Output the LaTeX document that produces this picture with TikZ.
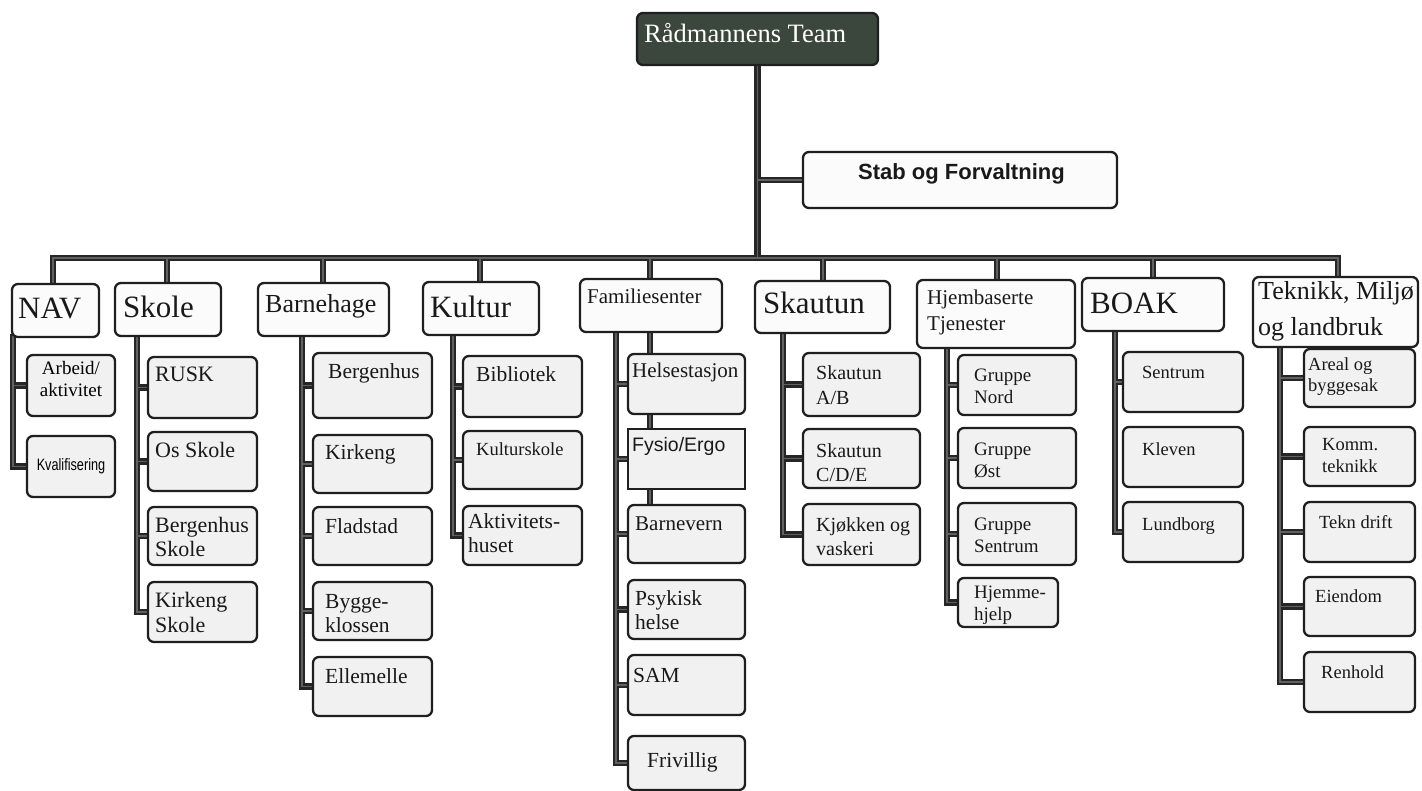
\documentclass[tikz,border=0pt]{standalone}
\usepackage{fontspec}
\setmainfont{Liberation Serif}
\newfontfamily\arialf{Liberation Sans}
\usetikzlibrary{calc}
\pgfdeclarelayer{lineA}
\pgfdeclarelayer{lineB}
\pgfsetlayers{lineA,lineB,main}
\definecolor{rootgreen}{HTML}{3B473C}
\newcommand\fs[2]{\fontsize{#1}{#2}\selectfont}
\newcommand\twoL[2]{\begin{tabular}[t]{@{}l@{}}#1\\#2\end{tabular}}
\newcommand\twoC[2]{\begin{tabular}[t]{@{}c@{}}#1\\#2\end{tabular}}
\newcommand\connect[1]{\begin{pgfonlayer}{lineA}\draw[connout]#1;\end{pgfonlayer}\begin{pgfonlayer}{lineB}\draw[connin]#1;\end{pgfonlayer}}
\newcommand\bx[6]{\node[#2, minimum width={(#5-#3)*1pt}, minimum height={(#6-#4)*1pt}] (#1) at ({(#3+#5)/2},{(#4+#6)/2}) {};}
\newcommand\lb[5]{\node[lbl, font=#4] (#1) at (#2,#3) {#5};}
\tikzset{
  boxbase/.style={draw=black!88, line width=2.3pt, rounded corners=6pt, inner sep=0pt, outer sep=0pt},
  topbox/.style={boxbase, fill=gray!3},
  subbox/.style={boxbase, fill=gray!11},
  sqbox/.style={boxbase, fill=gray!11, sharp corners},
  rootbox/.style={boxbase, fill=rootgreen},
  lbl/.style={anchor=base west, inner sep=0pt, text=black!90},
  connout/.style={line width=6.5pt, draw=black!85, line cap=rect, line join=miter},
  connin/.style={line width=1.8pt, draw=black!62, line cap=rect, line join=miter}
}
\begin{document}
\begin{tikzpicture}[x=1pt,y=-1pt]
\useasboundingbox (0,0) rectangle (1422,791);
% ---------- boxes ----------
\bx{root}{rootbox}{637}{13}{878}{65}
\bx{stab}{topbox}{803}{152}{1117}{208}
\bx{nav}{topbox}{12}{284}{99}{337}
\bx{skole}{topbox}{115}{283}{221}{336}
\bx{barn}{topbox}{258}{283}{389}{336}
\bx{kult}{topbox}{423}{282}{539}{335}
\bx{fam}{topbox}{580}{279}{722}{332}
\bx{skau}{topbox}{755}{281}{890}{333}
\bx{hjem}{topbox}{917}{280}{1075}{348}
\bx{boak}{topbox}{1082}{278}{1224}{331}
\bx{tek}{topbox}{1253}{277}{1418}{347}
% NAV
\bx{arb}{subbox}{27}{355}{115}{416}
\bx{kval}{subbox}{27}{436}{115}{497}
% Skole
\bx{rusk}{subbox}{148}{357}{257}{418}
\bx{os}{subbox}{148}{432}{257}{491}
\bx{bsk}{subbox}{148}{507}{257}{565}
\bx{ksk}{subbox}{148}{582}{257}{642}
% Barnehage
\bx{bberg}{subbox}{313}{353}{432}{418}
\bx{bkirk}{subbox}{313}{435}{432}{493}
\bx{flad}{subbox}{313}{507}{432}{565}
\bx{bygg}{subbox}{313}{582}{432}{640}
\bx{elle}{subbox}{313}{657}{432}{716}
% Kultur
\bx{bib}{subbox}{463}{356}{582}{417}
\bx{kskole}{subbox}{463}{431}{582}{489}
\bx{akt}{subbox}{463}{506}{582}{565}
% Familiesenter
\bx{hels}{subbox}{628}{354}{745}{414}
\bx{fys}{sqbox}{628}{429}{745}{489}
\bx{bvern}{subbox}{628}{505}{745}{563}
\bx{psyk}{subbox}{628}{580}{745}{639}
\bx{sam}{subbox}{628}{655}{745}{715}
\bx{friv}{subbox}{628}{736}{745}{790}
% Skautun
\bx{sab}{subbox}{803}{353}{920}{416}
\bx{scde}{subbox}{803}{429}{920}{488}
\bx{kjok}{subbox}{803}{504}{920}{565}
% Hjembaserte
\bx{gn}{subbox}{958}{355}{1076}{415}
\bx{go}{subbox}{958}{428}{1076}{488}
\bx{gs}{subbox}{958}{503}{1076}{565}
\bx{hh}{subbox}{958}{578}{1058}{627}
% BOAK
\bx{sent}{subbox}{1123}{352}{1243}{412}
\bx{klev}{subbox}{1123}{427}{1243}{487}
\bx{lund}{subbox}{1123}{502}{1243}{562}
% Teknikk
\bx{areal}{subbox}{1304}{349}{1415}{407}
\bx{komm}{subbox}{1304}{427}{1415}{486}
\bx{tdrift}{subbox}{1304}{502}{1415}{562}
\bx{eien}{subbox}{1304}{577}{1415}{636}
\bx{renh}{subbox}{1304}{652}{1415}{712}
% ---------- labels ----------
\node[lbl, text=white, font=\fs{26.5}{30}] (root-t) at (644,43) {Rådmannens Team};
\lb{stab-t}{858}{180}{\arialf\bfseries\fs{22}{26}}{Stab og Forvaltning}
\lb{nav-t}{18}{319}{\fs{31}{36}}{NAV}
\lb{skole-t}{123}{318}{\fs{31}{36}}{Skole}
\lb{barn-t}{265}{313}{\fs{26}{30}}{Barnehage}
\lb{kult-t}{430}{318}{\fs{31}{36}}{Kultur}
\lb{fam-t}{587}{304}{\fs{21}{25}}{Familiesenter}
\lb{skau-t}{763}{314}{\fs{31}{36}}{Skautun}
\lb{hjem-t}{927}{305}{\fs{21}{26}}{\twoL{Hjembaserte}{Tjenester}}
\lb{boak-t}{1090}{314}{\fs{31}{36}}{BOAK}
\lb{tek-t}{1258}{300}{\fs{26}{36}}{\twoL{Teknikk, Miljø}{og landbruk}}
% NAV children
\node[anchor=base, inner sep=0pt, font=\fs{19}{22}] (arb-t) at (71,375) {\twoC{Arbeid/}{aktivitet}};
\node[anchor=base, inner sep=0pt, font=\arialf\fs{16.5}{20}] (kval-t) at (71,470) {\scalebox{0.77}[1]{Kvalifisering}};
% Skole children
\lb{rusk-t}{155}{382}{\fs{22}{25}}{RUSK}
\lb{os-t}{155}{457}{\fs{22}{25}}{Os Skole}
\lb{bsk-t}{155}{532}{\fs{22}{24}}{\twoL{Bergenhus}{Skole}}
\lb{ksk-t}{155}{607}{\fs{22}{25}}{\twoL{Kirkeng}{Skole}}
% Barnehage children
\lb{bberg-t}{328}{379}{\fs{21.5}{25}}{Bergenhus}
\lb{bkirk-t}{325}{460}{\fs{21.5}{25}}{Kirkeng}
\lb{flad-t}{325}{533}{\fs{21.5}{25}}{Fladstad}
\lb{bygg-t}{325}{608}{\fs{21.5}{24}}{\twoL{Bygge-}{klossen}}
\lb{elle-t}{325}{683}{\fs{21.5}{25}}{Ellemelle}
% Kultur children
\lb{bib-t}{476}{382}{\fs{21.5}{25}}{Bibliotek}
\lb{kskole-t}{476}{455}{\fs{18.5}{22}}{Kulturskole}
\lb{akt-t}{468}{528}{\fs{21.5}{24}}{\twoL{Aktivitets-}{huset}}
% Familiesenter children
\lb{hels-t}{632}{378}{\fs{21}{25}}{Helsestasjon}
\lb{fys-t}{632}{452}{\arialf\fs{19.5}{23}}{Fysio/Ergo}
\lb{bvern-t}{635}{530}{\fs{21}{25}}{Barnevern}
\lb{psyk-t}{635}{605}{\fs{21.5}{24}}{\twoL{Psykisk}{helse}}
\lb{sam-t}{633}{682}{\fs{21.5}{25}}{SAM}
\lb{friv-t}{647}{767}{\fs{21.5}{25}}{Frivillig}
% Skautun children
\lb{sab-t}{816}{380}{\fs{20}{25}}{\twoL{Skautun}{A/B}}
\begin{scope}
\clip (803,429) rectangle (920,481);
\lb{scde-t}{816}{457}{\fs{20}{24}}{\twoL{Skautun}{C/D/E}}
\end{scope}
\lb{kjok-t}{816}{531}{\fs{20}{24}}{\twoL{Kjøkken og}{vaskeri}}
% Hjembaserte children
\lb{gn-t}{974}{382}{\fs{19}{21.5}}{\twoL{Gruppe}{Nord}}
\lb{go-t}{974}{455}{\fs{19}{22}}{\twoL{Gruppe}{Øst}}
\lb{gs-t}{974}{530}{\fs{19}{22}}{\twoL{Gruppe}{Sentrum}}
\lb{hh-t}{974}{598}{\fs{19}{22}}{\twoL{Hjemme-}{hjelp}}
% BOAK children
\lb{sent-t}{1142}{379}{\fs{18.5}{22}}{Sentrum}
\lb{klev-t}{1142}{455}{\fs{18.5}{22}}{Kleven}
\lb{lund-t}{1142}{530}{\fs{18.5}{22}}{Lundborg}
% Teknikk children
\lb{areal-t}{1308}{371}{\fs{18.5}{21}}{\twoL{Areal og}{byggesak}}
\lb{komm-t}{1322}{450}{\fs{18.5}{22}}{\twoL{Komm.}{teknikk}}
\lb{tdrift-t}{1319}{528}{\fs{18.5}{22}}{Tekn drift}
\lb{eien-t}{1315}{602}{\fs{18.5}{22}}{Eiendom}
\lb{renh-t}{1321}{678}{\fs{18.5}{22}}{Renhold}
% ---------- connector coordinates ----------
\coordinate (navd) at (53,258);
\coordinate (skoled) at (167,258);
\coordinate (barnd) at (323,258);
\coordinate (kultd) at (480,258);
\coordinate (famd) at (650,258);
\coordinate (skaud) at (823,258);
\coordinate (hjemd) at (997,258);
\coordinate (boakd) at (1153,258);
\coordinate (tekd) at (1338,258);
\coordinate (navv) at (13,0);
\coordinate (skolev) at (137,0);
\coordinate (barnv) at (302,0);
\coordinate (kultv) at (453,0);
\coordinate (famv) at (616,0);
\coordinate (skauv) at (783,0);
\coordinate (hjemv) at (947,0);
\coordinate (boakv) at (1115,0);
\coordinate (tekv) at (1280,0);
% ---------- connectors ----------
\connect{(root.south) -- (root.south |- navd)}
\connect{(stab.west) -- (stab.west -| root.south)}
\connect{(nav.north -| navd) -- (navd) -- (tekd) -- (tek.north -| tekd)}
\connect{(skoled) -- (skole.north -| skoled)}
\connect{(barnd) -- (barn.north -| barnd)}
\connect{(kultd) -- (kult.north -| kultd)}
\connect{(famd) -- (fam.north -| famd)}
\connect{(skaud) -- (skau.north -| skaud)}
\connect{(hjemd) -- (hjem.north -| hjemd)}
\connect{(boakd) -- (boak.north -| boakd)}
% NAV
\connect{(nav.south -| navv) |- (kval.west)}
\connect{(arb.west) -- (arb.west -| navv)}
% Skole
\connect{(skole.south -| skolev) |- (ksk.west)}
\connect{(rusk.west) -- (rusk.west -| skolev)}
\connect{(os.west) -- (os.west -| skolev)}
\connect{(bsk.west) -- (bsk.west -| skolev)}
% Barnehage
\connect{(barn.south -| barnv) |- (elle.west)}
\connect{(bberg.west) -- (bberg.west -| barnv)}
\connect{(bkirk.west) -- (bkirk.west -| barnv)}
\connect{(flad.west) -- (flad.west -| barnv)}
\connect{(bygg.west) -- (bygg.west -| barnv)}
% Kultur
\connect{(kult.south -| kultv) |- (akt.west)}
\connect{(bib.west) -- (bib.west -| kultv)}
\connect{(kskole.west) -- (kskole.west -| kultv)}
% Familiesenter
\connect{(fam.south -| famv) |- (friv.west)}
\connect{(fam.south -| famd) -- (bvern.north -| famd)}
\connect{(hels.west) -- (hels.west -| famv)}
\connect{(fys.west) -- (fys.west -| famv)}
\connect{(bvern.west) -- (bvern.west -| famv)}
\connect{(psyk.west) -- (psyk.west -| famv)}
\connect{(sam.west) -- (sam.west -| famv)}
% Skautun
\connect{(skau.south -| skauv) |- (kjok.west)}
\connect{(sab.west) -- (sab.west -| skauv)}
\connect{(scde.west) -- (scde.west -| skauv)}
% Hjembaserte
\connect{(hjem.south -| hjemv) |- (hh.west)}
\connect{(gn.west) -- (gn.west -| hjemv)}
\connect{(go.west) -- (go.west -| hjemv)}
\connect{(gs.west) -- (gs.west -| hjemv)}
% BOAK
\connect{(boak.south -| boakv) |- (lund.west)}
\connect{(sent.west) -- (sent.west -| boakv)}
% Teknikk
\connect{(tek.south -| tekv) |- (renh.west)}
\connect{(areal.west) -- (areal.west -| tekv)}
\connect{(komm.west) -- (komm.west -| tekv)}
\connect{(tdrift.west) -- (tdrift.west -| tekv)}
\connect{(eien.west) -- (eien.west -| tekv)}
\end{tikzpicture}
\end{document}
